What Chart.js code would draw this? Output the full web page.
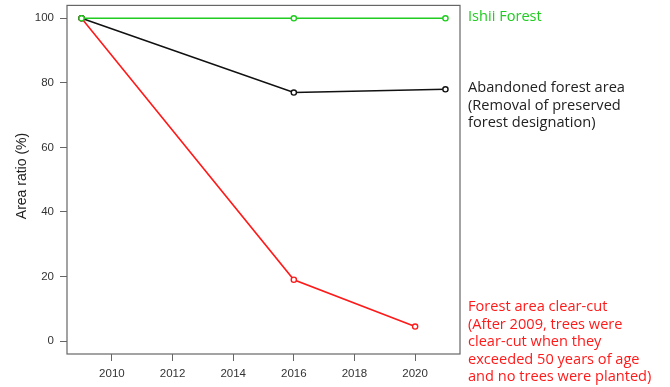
<!DOCTYPE html>
<html>
<head>
<meta charset="utf-8">
<script src="https://cdn.jsdelivr.net/npm/chart.js@4.4.1/dist/chart.umd.min.js"></script>
<style>
  html, body { margin: 0; padding: 0; background: #fff; }
  #wrap { width: 670px; height: 387px; position: relative; }
</style>
</head>
<body>
<div id="wrap"><canvas id="forest"></canvas></div>
<script>
// Series (year, area ratio %)
const ISHII_YEARS = [2009, 2016, 2021];
const ISHII = [100, 100, 100];
const ABANDONED_YEARS = [2009, 2016, 2021];
const ABANDONED = [100, 77, 78];
const CLEARCUT_YEARS = [2009, 2016, 2020];
const CLEARCUT = [100, 19, 4.5];

// Tick labels
const X_TICKS = [2010, 2012, 2014, 2016, 2018, 2020];
const Y_TICKS = [0, 20, 40, 60, 80, 100];

const GREEN = '#1fcc1f';
const BLACK = '#111111';
const RED = '#ff1a1a';
const AXIS = '#666666';

const LABELS = [
    { color: GREEN, y: 17, lines: ['Ishii Forest'] },
    { color: '#222', y: 88, lines: ['Abandoned forest area', '(Removal of preserved', 'forest designation)'] },
    { color: RED, y: 307, lines: ['Forest area clear-cut', '(After 2009, trees were',
        'clear-cut when they', 'exceeded 50 years of age', 'and no trees were planted)'] }
];

const toPoints = (xs, ys) => xs.map((x, i) => ({ x: x, y: ys[i] }));

const series = (data, color) => ({
    data: data,
    borderColor: color,
    borderWidth: 1.6,
    pointRadius: 2.6,
    pointBorderWidth: 1.4,
    pointBackgroundColor: '#fff',
    pointBorderColor: color,
    tension: 0
});

// box around the plot plus side labels
const decor = {
    id: 'decor',
    afterDraw(chart) {
        const ctx = chart.ctx;
        const a = chart.chartArea;
        ctx.save();
        ctx.strokeStyle = AXIS;
        ctx.lineWidth = 1.2;
        ctx.strokeRect(a.left, a.top, a.right - a.left, a.bottom - a.top);

        ctx.font = '14.6px "Open Sans"';
        ctx.textBaseline = 'middle';
        ctx.textAlign = 'left';
        LABELS.forEach(l => {
            ctx.fillStyle = l.color;
            l.lines.forEach((t, i) => ctx.fillText(t, a.right + 8, l.y + i * 17.5));
        });

        ctx.fillStyle = '#222';
        ctx.font = '14px "Liberation Sans"';
        ctx.textAlign = 'center';
        ctx.translate(22, 176);
        ctx.rotate(-Math.PI / 2);
        ctx.fillText('Area ratio (%)', 0, 0);
        ctx.restore();
    }
};

window.onload = () => {
    new Chart(document.getElementById('forest'), {
        type: 'line',
        data: {
            datasets: [
                series(toPoints(ISHII_YEARS, ISHII), GREEN),
                series(toPoints(ABANDONED_YEARS, ABANDONED), BLACK),
                series(toPoints(CLEARCUT_YEARS, CLEARCUT), RED)
            ]
        },
        options: {
            responsive: true,
            maintainAspectRatio: false,
            animation: false,
            layout: { padding: { top: 3, right: 210, left: 0, bottom: 0 } },
            plugins: { legend: { display: false }, tooltip: { enabled: false } },
            scales: {
                x: {
                    type: 'linear',
                    min: 2008.52,
                    max: 2021.48,
                    afterFit: s => { s.height = 33; s.paddingLeft = 0; s.paddingRight = 0; },
                    afterBuildTicks: s => { s.ticks = X_TICKS.map(v => ({ value: v })); },
                    grid: { drawOnChartArea: false, tickLength: 7, tickColor: AXIS },
                    border: { display: false },
                    ticks: {
                        color: '#333',
                        font: { family: 'Liberation Sans', size: 11.5 },
                        padding: 6,
                        callback: v => String(v)
                    }
                },
                y: {
                    min: -4,
                    max: 104,
                    afterFit: s => { s.width = 67; s.paddingTop = 0; s.paddingBottom = 0; },
                    afterBuildTicks: s => { s.ticks = Y_TICKS.map(v => ({ value: v })); },
                    grid: { drawOnChartArea: false, tickLength: 7, tickColor: AXIS },
                    border: { display: false },
                    ticks: {
                        color: '#333',
                        font: { family: 'Liberation Sans', size: 11.5 },
                        padding: 6
                    }
                }
            }
        },
        plugins: [decor]
    });
};
</script>
</body>
</html>
